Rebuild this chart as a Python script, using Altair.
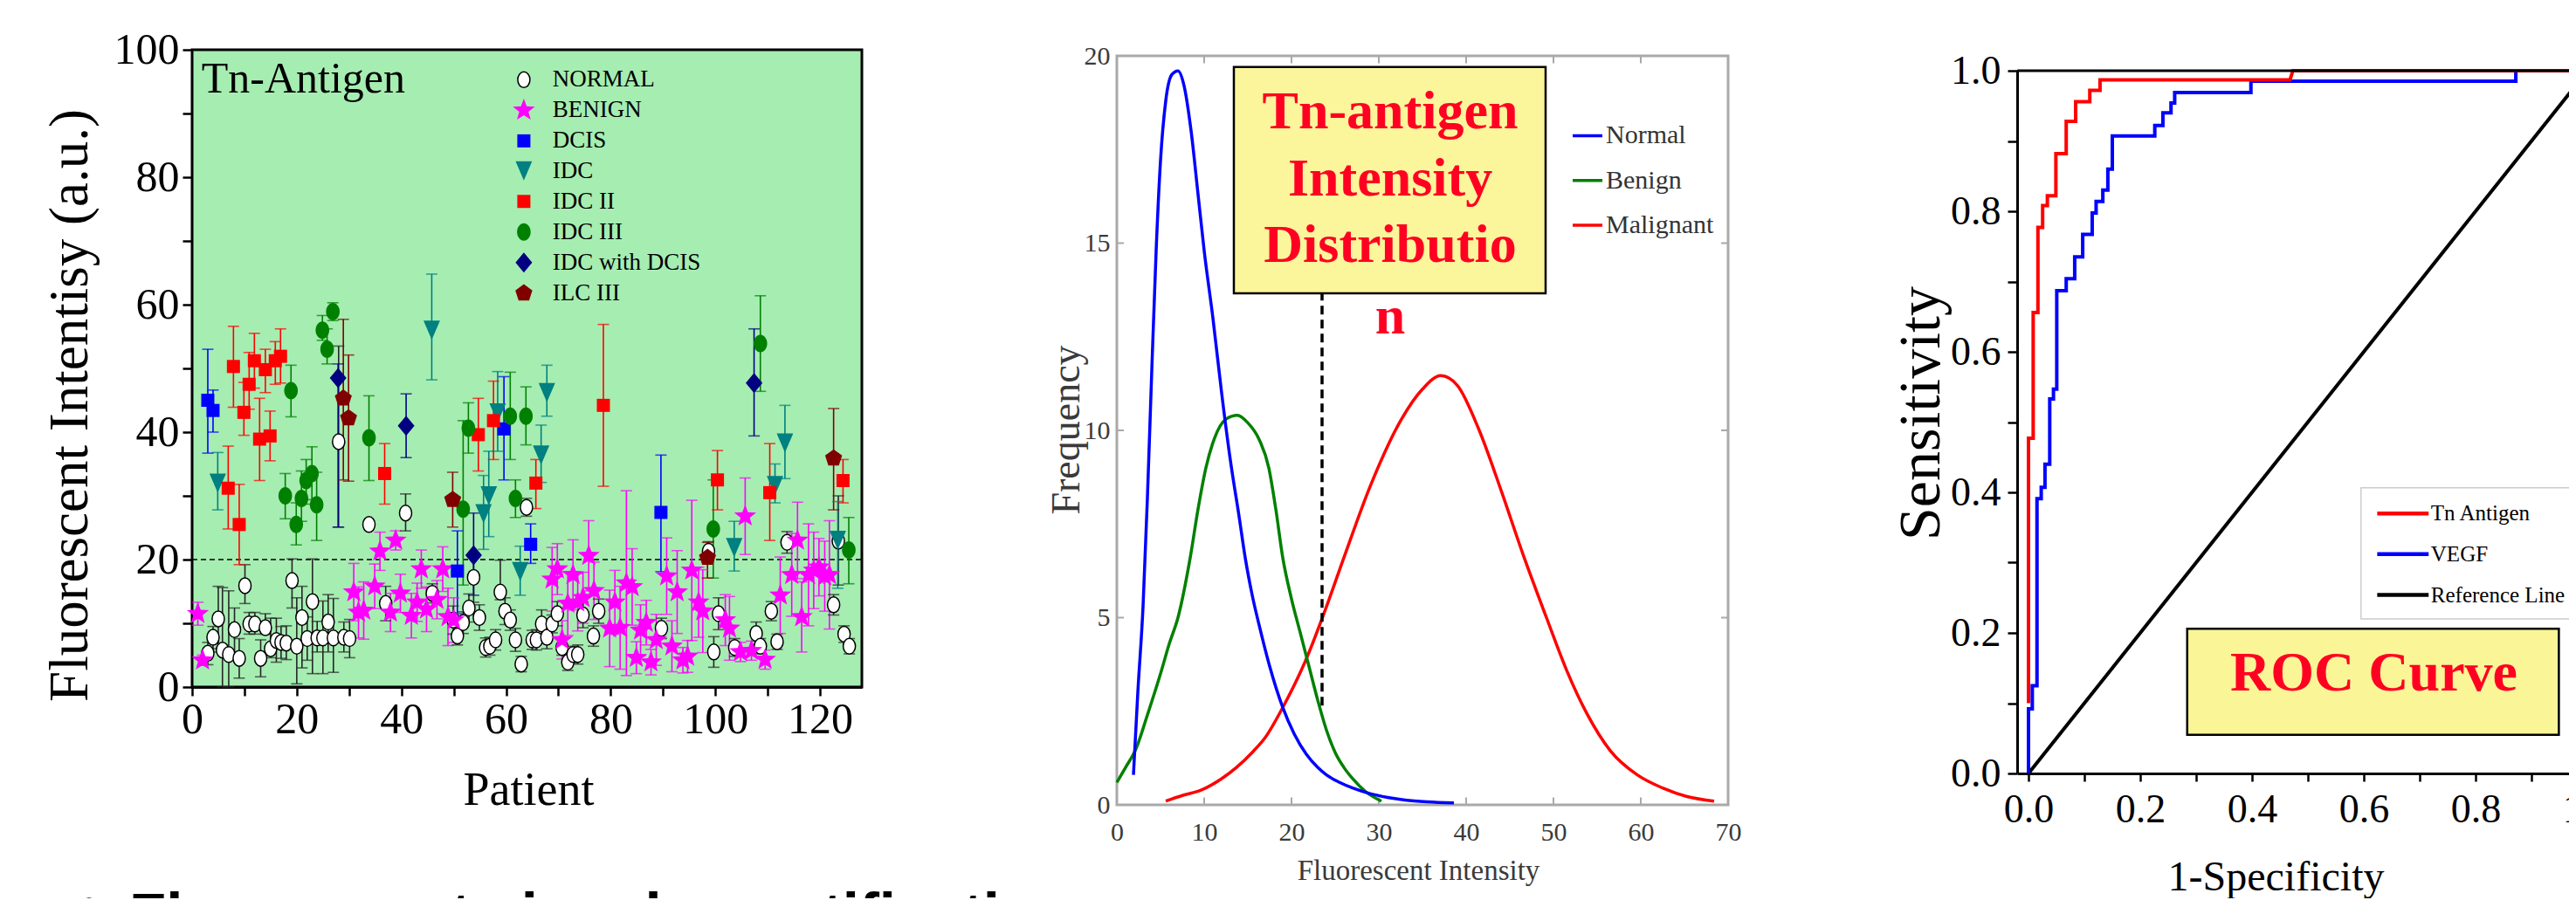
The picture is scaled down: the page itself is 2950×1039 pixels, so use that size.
import altair as alt
import pandas as pd

SERIF = "Liberation Serif"
SANS = "Liberation Sans"
W, H = 2934, 1021

# ======================= Panel 1 data : Tn-Antigen per patient =======================
groups = ["NORMAL", "BENIGN", "DCIS", "IDC", "IDC II", "IDC III", "IDC with DCIS", "ILC III"]
group_colors = ["#262626", "#ff00ff", "#0000ff", "#008080", "#ff0000", "#008000", "#000080", "#800000"]

normal_x = [3.0, 4.0, 5.0, 5.8, 7.0, 8.1, 9.0, 10.1, 10.9, 12.0, 13.1, 14.0, 15.0, 16.1, 17.0, 18.0, 19.1, 20.0, 21.0, 22.0,
            23.0, 23.9, 25.0, 26.0, 27.0, 29.0, 30.1, 28.0, 33.8, 37.0, 40.8, 45.9, 49.9, 50.7, 51.8, 52.9, 53.8, 54.9, 56.1, 56.9,
            58.0, 58.9, 59.8, 60.8, 61.8, 62.9, 63.9, 65.0, 65.8, 66.8, 67.8, 68.8, 69.8, 70.7, 71.8, 72.8, 73.7, 74.7, 76.7, 77.7,
            89.7, 98.7, 99.7, 100.6, 103.7, 107.8, 108.6, 110.7, 111.8, 113.7, 122.6, 123.5, 124.6, 125.6]
normal_y = [5.3, 7.8, 10.7, 5.8, 5.1, 9.0, 4.5, 15.9, 9.9, 9.9, 4.5, 9.3, 6.0, 7.3, 7.0, 6.9, 16.7, 6.4, 10.9, 7.6,
            13.4, 7.7, 7.7, 10.2, 7.7, 7.8, 7.6, 38.5, 25.5, 13.1, 27.3, 14.7, 10.5, 8.0, 10.1, 12.4, 17.2, 10.9, 6.2, 6.4,
            7.4, 14.9, 11.9, 10.5, 7.4, 3.6, 28.2, 7.4, 7.4, 9.9, 7.8, 9.9, 11.5, 6.2, 3.9, 5.1, 5.1, 11.3, 8.0, 11.9,
            9.2, 21.3, 5.5, 11.5, 6.2, 8.4, 6.4, 11.9, 7.1, 22.7, 12.9, 22.9, 8.3, 6.4]
normal_lo = [3.5, 6.0, 5.5, 0.0, 0.0, 5.5, 1.4, 13.1, 8.3, 8.3, 1.6, 8.3, 4.6, 3.9, 4.5, 4.3, 12.4, 0.5, 3.0, 4.2,
             2.1, 5.5, 2.1, 5.5, 2.3, 5.5, 4.6, 25.1, 24.8, 10.4, 24.5, 13.2, 8.3, 6.6, 8.4, 10.2, 13.3, 8.9, 4.7, 5.0,
             5.8, 13.7, 9.8, 8.9, 5.6, 2.4, 26.8, 5.9, 5.8, 7.7, 6.0, 8.5, 9.6, 5.0, 2.6, 3.8, 3.6, 9.3, 6.4, 10.0,
             7.6, 19.8, 3.1, 9.0, 4.8, 6.6, 5.2, 10.4, 5.9, 21.0, 11.3, 16.0, 7.0, 5.2]
normal_hi = [7.0, 9.5, 15.8, 15.6, 15.1, 12.4, 7.6, 19.2, 11.7, 11.7, 7.4, 11.5, 10.8, 10.8, 9.5, 9.6, 20.1, 14.0, 15.8, 11.0,
             20.1, 10.3, 13.5, 14.5, 13.9, 10.2, 10.6, 53.5, 26.2, 15.8, 30.3, 16.2, 12.7, 9.4, 11.8, 14.6, 20.5, 12.9, 7.7, 7.8,
             9.0, 19.9, 14.0, 12.1, 9.2, 4.8, 29.6, 8.9, 9.0, 12.1, 9.6, 11.3, 13.4, 7.4, 5.2, 6.4, 6.6, 13.3, 9.6, 13.8,
             10.8, 22.8, 7.9, 14.0, 7.6, 10.2, 7.6, 13.4, 8.3, 24.4, 14.5, 30.0, 9.6, 7.6]

benign_x = [1.1, 2.0, 30.9, 31.8, 32.8, 34.9, 35.9, 37.9, 38.9, 39.8, 41.9, 43.0, 43.8, 44.8, 46.8, 47.9, 48.9, 50.0, 68.8, 69.8,
            70.7, 71.8, 72.8, 73.7, 74.7, 75.8, 76.8, 79.8, 80.8, 81.8, 83.0, 84.1, 84.9, 85.7, 86.8, 87.7, 88.7, 90.7, 91.7, 92.7,
            93.8, 94.7, 95.5, 96.8, 97.6, 101.9, 102.7, 104.8, 105.7, 106.9, 109.5, 112.4, 114.6, 115.7, 116.5, 117.8, 118.8, 119.8, 120.9, 121.8]
benign_y = [11.5, 4.2, 14.9, 11.7, 12.0, 15.8, 21.3, 11.7, 23.0, 14.7, 11.2, 13.3, 18.5, 12.2, 13.7, 18.5, 11.0, 10.5, 16.9, 18.5,
            7.4, 13.1, 17.6, 13.3, 14.0, 20.6, 15.1, 9.2, 13.3, 9.3, 16.3, 15.7, 4.6, 8.9, 10.1, 3.9, 7.4, 17.4, 6.4, 14.9,
            4.2, 4.8, 18.3, 13.3, 11.9, 10.5, 9.2, 5.5, 26.8, 5.7, 4.3, 14.4, 17.6, 23.0, 11.0, 17.6, 18.3, 18.8, 17.4, 17.6]
benign_err = [1.8, 0.8, 4.5, 4.0, 4.5, 3.5, 3.0, 3.0, 1.5, 3.0, 3.5, 3.0, 3.0, 3.5, 3.0, 3.5, 4.5, 3.5, 5.0, 4.0,
              3.0, 5.0, 5.5, 4.5, 4.0, 5.5, 4.5, 6.0, 5.0, 6.5, 14.5, 6.0, 2.5, 4.0, 3.5, 2.0, 4.0, 6.0, 4.0, 6.5,
              2.0, 2.5, 11.0, 5.5, 6.5, 4.0, 5.0, 1.5, 6.0, 1.5, 1.5, 6.0, 6.5, 6.0, 5.5, 8.0, 6.0, 4.5, 5.5, 8.5]

dcis_x = [3.0, 4.0, 50.7, 59.6, 64.7, 89.6]
dcis_y = [45.0, 43.4, 18.2, 40.5, 22.4, 27.4]
dcis_lo = [36.7, 40.0, 11.5, 32.5, 19.4, 18.1]
dcis_hi = [53.0, 46.6, 24.5, 48.7, 25.6, 36.4]

idc_x = [4.9, 45.8, 55.7, 56.7, 58.4, 62.7, 66.7, 67.8, 103.6, 111.4, 113.3, 123.4]
idc_y = [32.0, 56.0, 27.2, 30.0, 43.0, 18.1, 36.4, 46.2, 21.9, 31.6, 38.3, 23.0]
idc_lo = [27.8, 48.2, 21.6, 23.6, 37.0, 14.4, 32.1, 42.5, 18.2, 28.9, 32.7, 15.5]
idc_hi = [36.8, 64.8, 33.2, 37.0, 49.5, 22.1, 41.1, 50.5, 26.0, 35.0, 44.2, 29.1]

idc2_x = [6.9, 7.9, 9.0, 9.9, 10.9, 11.9, 12.9, 14.0, 14.9, 15.9, 16.9, 36.8, 54.7, 57.6, 65.7, 78.6, 100.4, 110.4, 124.4]
idc2_y = [31.2, 50.3, 25.5, 43.1, 47.5, 51.2, 38.9, 49.8, 39.4, 51.2, 51.9, 33.5, 39.6, 41.8, 32.0, 44.2, 32.5, 30.5, 32.4]
idc2_lo = [24.8, 43.9, 19.2, 39.5, 43.6, 46.9, 32.4, 46.2, 35.5, 47.5, 47.7, 28.7, 33.9, 35.7, 28.0, 31.5, 27.8, 23.0, 28.9]
idc2_hi = [37.8, 56.6, 31.8, 47.8, 52.5, 55.5, 45.3, 53.0, 43.3, 54.2, 56.2, 38.2, 45.3, 48.0, 35.7, 56.9, 37.1, 38.2, 35.7]

idc3_x = [17.8, 18.9, 19.9, 20.9, 21.8, 22.9, 23.8, 24.9, 25.8, 26.9, 33.8, 51.8, 52.8, 60.8, 61.8, 63.8, 99.6, 108.6, 125.5]
idc3_y = [30.0, 46.5, 25.5, 29.6, 32.4, 33.5, 28.6, 56.0, 53.0, 58.9, 39.1, 27.9, 40.6, 42.5, 29.6, 42.5, 24.8, 53.9, 21.5]
idc3_lo = [26.4, 42.4, 22.3, 26.0, 28.7, 29.4, 23.0, 54.4, 50.7, 57.5, 32.4, 16.0, 36.7, 35.7, 26.6, 38.0, 17.1, 46.4, 16.2]
idc3_hi = [33.5, 50.5, 28.9, 33.9, 35.7, 37.7, 33.7, 58.3, 56.2, 60.3, 45.7, 41.8, 44.6, 49.4, 32.5, 47.1, 32.5, 61.4, 26.6]

idcd_x = [27.9, 40.9, 53.8, 107.4]
idcd_y = [48.5, 41.0, 20.7, 47.7]
idcd_lo = [25.1, 36.0, 14.4, 39.4]
idcd_hi = [50.7, 46.0, 27.3, 56.2]

ilc_x = [28.9, 29.9, 49.8, 98.5, 122.6]
ilc_y = [45.3, 42.2, 29.4, 20.3, 35.9]
ilc_lo = [32.5, 32.3, 25.1, 17.1, 27.8]
ilc_hi = [57.7, 52.1, 33.7, 22.7, 43.7]

legend1_y = [95.3, 90.5, 85.7, 81.0, 76.2, 71.4, 66.6, 61.8]

# ======================= Panel 2 data : intensity distributions =======================
normal_dx = [1.9, 2.4, 3.0, 3.5, 4.0, 4.5, 5.0, 5.6, 6.3, 7.0, 7.7, 8.5, 9.3, 10.0, 11.0, 12.0, 13.0, 14.0, 14.7,
             15.5, 16.4, 17.5, 19.0, 20.3, 21.7, 23.0, 24.0, 25.5, 27.0, 29.0, 31.0, 33.0, 35.5, 38.6]
normal_dy = [0.8, 3.0, 5.3, 8.2, 11.6, 14.8, 17.2, 18.8, 19.5, 19.6, 19.2, 18.0, 16.3, 14.8, 13.0, 11.0, 9.2, 7.7, 6.6,
             5.6, 4.7, 3.7, 2.6, 1.9, 1.35, 1.0, 0.8, 0.6, 0.45, 0.3, 0.2, 0.13, 0.08, 0.05]
benign_dx = [0.0, 1.0, 2.2, 3.5, 5.0, 6.0, 7.0, 8.4, 9.3, 10.2, 11.2, 12.5, 13.8, 15.0, 16.2, 17.4, 18.2, 19.0,
             20.0, 21.0, 22.0, 23.0, 24.0, 25.0, 26.0, 27.0, 28.5, 30.3]
benign_dy = [0.6, 1.0, 1.5, 2.4, 3.5, 4.3, 5.0, 6.6, 7.9, 9.0, 9.8, 10.3, 10.4, 10.2, 9.8, 9.0, 7.9, 6.6,
             5.5, 4.6, 3.7, 2.8, 2.0, 1.4, 1.0, 0.7, 0.35, 0.1]
malig_dx = [5.6, 7.5, 9.7, 12.0, 13.7, 15.5, 17.0, 19.0, 21.7, 23.7, 26.0, 29.0, 32.6, 35.0, 37.1, 39.0, 41.5,
            44.0, 46.5, 49.2, 51.5, 53.8, 56.5, 59.6, 62.5, 65.3, 68.4]
malig_dy = [0.1, 0.25, 0.4, 0.7, 1.0, 1.4, 1.8, 2.6, 3.9, 5.1, 6.6, 8.5, 10.3, 11.1, 11.46, 11.2, 10.0,
            8.4, 6.7, 5.0, 3.6, 2.45, 1.45, 0.8, 0.45, 0.22, 0.1]
dist_series = ["Normal", "Benign", "Malignant"]
dist_colors = ["#0000ff", "#008000", "#ff0000"]
cutoff_x = 23.5

# ======================= Panel 3 data : ROC curves =======================
tn_fpr = [0, 0, 0.0084, 0.0084, 0.0169, 0.0169, 0.0253, 0.0253, 0.0338, 0.0338, 0.049, 0.049, 0.0675, 0.0675,
          0.0844, 0.0844, 0.1097, 0.1097, 0.128, 0.128, 0.468, 0.473, 1.0]
tn_tpr = [0.1, 0.477, 0.477, 0.656, 0.656, 0.777, 0.777, 0.808, 0.808, 0.822, 0.822, 0.882, 0.882, 0.928,
          0.928, 0.956, 0.956, 0.972, 0.972, 0.987, 0.987, 1.0, 1.0]
vegf_fpr = [0, 0, 0.0068, 0.0068, 0.0152, 0.0152, 0.0228, 0.0228, 0.0295, 0.0295, 0.038, 0.038, 0.0447, 0.0447,
            0.0506, 0.0506, 0.0675, 0.0675, 0.0827, 0.0827, 0.097, 0.097, 0.114, 0.114, 0.121, 0.121, 0.133, 0.133,
            0.142, 0.142, 0.150, 0.150, 0.226, 0.226, 0.2405, 0.2405, 0.255, 0.255, 0.2616, 0.2616, 0.398, 0.398,
            0.872, 0.872, 1.0]
vegf_tpr = [0, 0.092, 0.092, 0.125, 0.125, 0.391, 0.391, 0.407, 0.407, 0.44, 0.44, 0.533, 0.533, 0.547,
            0.547, 0.687, 0.687, 0.704, 0.704, 0.735, 0.735, 0.767, 0.767, 0.7975, 0.7975, 0.814, 0.814, 0.83,
            0.83, 0.86, 0.86, 0.907, 0.907, 0.922, 0.922, 0.94, 0.94, 0.954, 0.954, 0.969, 0.969, 0.985,
            0.985, 1.0, 1.0]
ref_fpr = [0.0, 1.0]
ref_tpr = [0.0, 1.0]
roc_series = ["Tn Antigen", "VEGF", "Reference Line"]
roc_colors = ["#ff0000", "#0000ff", "#000000"]

# ======================= marker shapes =======================
ELL_N = "M0,-1C0.431,-1,0.78,-0.552,0.78,0C0.78,0.552,0.431,1,0,1C-0.431,1,-0.78,0.552,-0.78,0C-0.78,-0.552,-0.431,-1,0,-1Z"
ELL_G = "M0,-1C0.43,-1,0.78,-0.552,0.78,0C0.78,0.552,0.43,1,0,1C-0.43,1,-0.78,0.552,-0.78,0C-0.78,-0.552,-0.43,-1,0,-1Z"
STAR = "M0,-1L0.247,-0.34L0.951,-0.309L0.4,0.13L0.588,0.809L0,0.42L-0.588,0.809L-0.4,0.13L-0.951,-0.309L-0.247,-0.34Z"
TRI = "M-0.86,-1L0.86,-1L0,1Z"
DIAM = "M0,-1L0.83,0L0,1L-0.83,0Z"
PENT = "M0,-1L0.951,-0.309L0.588,0.809L-0.588,0.809L-0.951,-0.309Z"
group_shapes = [ELL_N, STAR, "square", TRI, "square", ELL_G, DIAM, PENT]
group_sizes = [324, 700, 225, 484, 225, 400, 529, 420]

# ======================= tables =======================
group_pts = {}
err_rows = []
rows = []
for a, b, e in zip(benign_x, benign_y, benign_err):
    rows.append({"x": a, "y": b})
    err_rows.append({"g": "BENIGN", "x": a, "lo": b - e, "hi": b + e})
group_pts["BENIGN"] = pd.DataFrame(rows)
for a, b, lo, hi in zip(normal_x, normal_y, normal_lo, normal_hi):
    err_rows.append({"g": "NORMAL", "x": a, "lo": lo, "hi": hi})
for g, xs, ys, los, his in [("DCIS", dcis_x, dcis_y, dcis_lo, dcis_hi), ("IDC", idc_x, idc_y, idc_lo, idc_hi),
                            ("IDC II", idc2_x, idc2_y, idc2_lo, idc2_hi), ("IDC III", idc3_x, idc3_y, idc3_lo, idc3_hi),
                            ("IDC with DCIS", idcd_x, idcd_y, idcd_lo, idcd_hi), ("ILC III", ilc_x, ilc_y, ilc_lo, ilc_hi)]:
    group_pts[g] = pd.DataFrame({"x": xs, "y": ys})
    for a, lo, hi in zip(xs, los, his):
        err_rows.append({"g": g, "x": a, "lo": lo, "hi": hi})
err_df = pd.DataFrame(err_rows)
normal_df = pd.DataFrame({"x": normal_x, "y": normal_y})

# ======================= Panel 1 =======================
sx1 = alt.Scale(domain=[0, 128], range=[212, 979], nice=False, zero=False)
sy1 = alt.Scale(domain=[0, 100], range=[779, 49], nice=False, zero=False)
ax1x = alt.Axis(orient="bottom", offset=779 - H, values=list(range(0, 121, 10)),
                labelExpr="datum.value % 20 == 0 ? datum.label : ''", grid=False,
                domainColor="black", domainWidth=3, tickColor="black", tickWidth=2.5, tickSize=10,
                labelFont=SERIF, labelFontSize=50, labelColor="black", labelPadding=2,
                labelOverlap=False, labelFlush=False,
                title="Patient", titleFont=SERIF, titleFontSize=54, titleFontWeight="normal",
                titleColor="black", titleX=597, titleY=118, titleBaseline="middle", titleAlign="center")
ax1y = alt.Axis(orient="left", offset=-212, values=list(range(0, 101, 10)),
                labelExpr="datum.value % 20 == 0 ? datum.label : ''", grid=False,
                domainColor="black", domainWidth=3, tickColor="black", tickWidth=2.5, tickSize=11,
                labelFont=SERIF, labelFontSize=50, labelColor="black", labelPadding=4,
                labelOverlap=False, labelFlush=False,
                title="Fluorescent Intentisy (a.u.)", titleFont=SERIF, titleFontSize=63,
                titleFontWeight="normal", titleColor="black", titleAngle=270, titleX=-140, titleY=456,
                titleBaseline="middle", titleAlign="center")


def X1(f):
    return alt.X(f, type="quantitative", scale=sx1, axis=ax1x)


def Y1(f):
    return alt.Y(f, type="quantitative", scale=sy1, axis=ax1y)


col_scale = alt.Scale(domain=groups, range=group_colors)

bg1 = alt.Chart(pd.DataFrame({"x": [0], "x2": [128], "y": [0], "y2": [100]})).mark_rect(
    fill="#a6edb2", stroke="black", strokeWidth=3).encode(x=X1("x"), x2=alt.X2("x2"), y=Y1("y"), y2=alt.Y2("y2"))
dash1 = alt.Chart(pd.DataFrame({"x": [0], "x2": [128], "y": [20]})).mark_rule(
    color="black", strokeDash=[6, 4], strokeWidth=1.5).encode(x=X1("x"), x2=alt.X2("x2"), y=Y1("y"))
err1 = alt.Chart(err_df).mark_rule(strokeWidth=1.6).encode(
    x=X1("x"), y=Y1("lo"), y2=alt.Y2("hi"), color=alt.Color("g:N", scale=col_scale, legend=None))
caphi = alt.Chart(err_df).mark_tick(orient="horizontal", size=13, thickness=1.6).encode(
    x=X1("x"), y=Y1("hi"), color=alt.Color("g:N", scale=col_scale, legend=None))
caplo = alt.Chart(err_df).mark_tick(orient="horizontal", size=13, thickness=1.6).encode(
    x=X1("x"), y=Y1("lo"), color=alt.Color("g:N", scale=col_scale, legend=None))
npts = alt.Chart(normal_df).mark_point(shape=ELL_N, size=group_sizes[0], filled=True, fill="white",
                                       stroke="black", strokeWidth=1.5, opacity=1).encode(x=X1("x"), y=Y1("y"))
layers1 = [bg1, dash1, err1, caphi, caplo, npts]
for gi, g in enumerate(groups[1:], start=1):
    layers1.append(alt.Chart(group_pts[g]).mark_point(
        shape=group_shapes[gi], size=group_sizes[gi], filled=True, fill=group_colors[gi],
        strokeWidth=0, opacity=1).encode(x=X1("x"), y=Y1("y")))

# legend inside the panel
layers1.append(alt.Chart(pd.DataFrame({"x": [63.4], "y": [legend1_y[0]]})).mark_point(
    shape=ELL_N, size=group_sizes[0], filled=True, fill="white", stroke="black", strokeWidth=1.5,
    opacity=1).encode(x=X1("x"), y=Y1("y")))
for gi, g in enumerate(groups[1:], start=1):
    layers1.append(alt.Chart(pd.DataFrame({"x": [63.4], "y": [legend1_y[gi]]})).mark_point(
        shape=group_shapes[gi], size=group_sizes[gi], filled=True, fill=group_colors[gi],
        strokeWidth=0, opacity=1).encode(x=X1("x"), y=Y1("y")))
layers1.append(alt.Chart(pd.DataFrame({"x": [68.9] * 8, "y": legend1_y, "t": groups})).mark_text(
    align="left", baseline="middle", font=SERIF, fontSize=27, color="black").encode(
    x=X1("x"), y=Y1("y"), text="t:N"))
layers1.append(alt.Chart(pd.DataFrame({"x": [1.8], "y": [93.3], "t": ["Tn-Antigen"]})).mark_text(
    align="left", baseline="alphabetic", font=SERIF, fontSize=50, color="black").encode(
    x=X1("x"), y=Y1("y"), text="t:N"))
layers1.append(alt.Chart(pd.DataFrame({"x": [-21.7, -12.0], "y": [-37.5, -38.9],
                                       "t": ["\u2022", "Fluorescent signal quantification"]})).mark_text(
    align="left", baseline="alphabetic", font=SANS, fontWeight="bold", fontSize=69, color="black").encode(
    x=X1("x"), y=Y1("y"), text="t:N"))

panel1 = alt.layer(*layers1)

# ======================= Panel 2 =======================
sx2 = alt.Scale(domain=[0, 70], range=[1271, 1971], nice=False, zero=False)
sy2 = alt.Scale(domain=[0, 20], range=[914, 56], nice=False, zero=False)
ax2x = alt.Axis(orient="bottom", offset=914 - H, values=list(range(0, 71, 10)), grid=False,
                ticks=False, tickSize=0, domain=False, labelFont=SERIF, labelFontSize=30,
                labelColor="#3a3a3a", labelPadding=16, labelOverlap=False, labelFlush=False,
                title="Fluorescent Intensity", titleFont=SERIF, titleFontSize=33, titleFontWeight="normal",
                titleColor="#3a3a3a", titleX=1616, titleY=75, titleBaseline="middle", titleAlign="center")
ax2y = alt.Axis(orient="left", offset=-1271, values=[0, 5, 10, 15, 20], grid=False,
                ticks=False, tickSize=0, domain=False, labelFont=SERIF, labelFontSize=30,
                labelColor="#3a3a3a", labelPadding=8, labelOverlap=False, labelFlush=False,
                title="Frequency", titleFont=SERIF, titleFontSize=46, titleFontWeight="normal",
                titleColor="#3a3a3a", titleAngle=270, titleX=-58, titleY=484,
                titleBaseline="middle", titleAlign="center")


def X2(f):
    return alt.X(f, type="quantitative", scale=sx2, axis=ax2x)


def Y2(f):
    return alt.Y(f, type="quantitative", scale=sy2, axis=ax2y)


frame2 = alt.Chart(pd.DataFrame({"x": [0], "x2": [70], "y": [0], "y2": [20]})).mark_rect(
    fill="white", fillOpacity=0, stroke="#a9a9a9", strokeWidth=3).encode(
    x=X2("x"), x2=alt.X2("x2"), y=Y2("y"), y2=alt.Y2("y2"))
vt = pd.DataFrame({"x": list(range(10, 70, 10)) * 2,
                   "y": [0.0] * 6 + [20.0] * 6, "y2": [0.2] * 6 + [19.8] * 6})
ht = pd.DataFrame({"y": [5, 10, 15] * 2, "x": [0.0] * 3 + [70.0] * 3, "x2": [0.8] * 3 + [69.2] * 3})
vticks2 = alt.Chart(vt).mark_rule(color="#a9a9a9", strokeWidth=2).encode(x=X2("x"), y=Y2("y"), y2=alt.Y2("y2"))
hticks2 = alt.Chart(ht).mark_rule(color="#a9a9a9", strokeWidth=2).encode(x=X2("x"), x2=alt.X2("x2"), y=Y2("y"))
curves = []
for xs, ys, c in [(malig_dx, malig_dy, dist_colors[2]), (benign_dx, benign_dy, dist_colors[1]),
                  (normal_dx, normal_dy, dist_colors[0])]:
    curves.append(alt.Chart(pd.DataFrame({"x": xs, "y": ys})).mark_line(
        color=c, strokeWidth=3.5, interpolate="monotone").encode(x=X2("x"), y=Y2("y")))
cut2 = alt.Chart(pd.DataFrame({"x": [cutoff_x], "y": [2.65], "y2": [13.66]})).mark_rule(
    color="black", strokeWidth=3.5, strokeDash=[10, 6]).encode(x=X2("x"), y=Y2("y"), y2=alt.Y2("y2"))
box2 = alt.Chart(pd.DataFrame({"x": [13.4], "x2": [49.1], "y": [13.66], "y2": [19.70]})).mark_rect(
    fill="#fbf59b", stroke="black", strokeWidth=2.5).encode(
    x=X2("x"), x2=alt.X2("x2"), y=Y2("y"), y2=alt.Y2("y2"))
boxtxt2 = alt.Chart(pd.DataFrame({"x": [31.3] * 4, "y": [18.5, 16.72, 14.94, 13.04],
                                  "t": ["Tn-antigen", "Intensity", "Distributio", "n"]})).mark_text(
    align="center", baseline="middle", font=SERIF, fontWeight="bold", fontSize=62, color="#ff0022").encode(
    x=X2("x"), y=Y2("y"), text="t:N")
leg2_lines = alt.Chart(pd.DataFrame({"x": [52.2] * 3, "x2": [55.6] * 3, "y": [17.87, 16.67, 15.48],
                                     "c": dist_colors})).mark_rule(strokeWidth=3.5).encode(
    x=X2("x"), x2=alt.X2("x2"), y=Y2("y"), color=alt.Color("c:N", scale=None))
leg2_txt = alt.Chart(pd.DataFrame({"x": [56.0] * 3, "y": [17.87, 16.67, 15.48], "t": dist_series})).mark_text(
    align="left", baseline="middle", font=SERIF, fontSize=30, color="#333333").encode(
    x=X2("x"), y=Y2("y"), text="t:N")

panel2 = alt.layer(frame2, vticks2, hticks2, *curves, cut2, box2, boxtxt2, leg2_lines, leg2_txt)

# ======================= Panel 3 =======================
sx3 = alt.Scale(domain=[-0.02, 1.02], range=[2302.2, 2967.8], nice=False, zero=False)
sy3 = alt.Scale(domain=[0, 1], range=[878, 73], nice=False, zero=False)
tick_vals = [round(i * 0.1, 1) for i in range(11)]
lab_expr = "round(datum.value * 10) % 2 == 0 ? format(datum.value, '.1f') : ''"
ax3x = alt.Axis(orient="bottom", offset=878 - H, values=tick_vals, labelExpr=lab_expr, grid=False,
                domainColor="black", domainWidth=3, tickColor="black", tickWidth=2.5, tickSize=9,
                labelFont=SERIF, labelFontSize=46, labelColor="black", labelPadding=10,
                labelOverlap=False, labelFlush=False,
                title="1-Specificity", titleFont=SERIF, titleFontSize=48, titleFontWeight="normal",
                titleColor="black", titleX=2598, titleY=133, titleBaseline="alphabetic", titleAlign="center")
ax3y = alt.Axis(orient="left", offset=-2302, values=tick_vals, labelExpr=lab_expr, grid=False,
                domainColor="black", domainWidth=3, tickColor="black", tickWidth=2.5, tickSize=11,
                labelFont=SERIF, labelFontSize=46, labelColor="black", labelPadding=8,
                labelOverlap=False, labelFlush=False,
                title="Sensitivity", titleFont=SERIF, titleFontSize=68, titleFontWeight="normal",
                titleColor="black", titleAngle=270, titleX=-110, titleY=465,
                titleBaseline="middle", titleAlign="center")


def X3(f):
    return alt.X(f, type="quantitative", scale=sx3, axis=ax3x)


def Y3(f):
    return alt.Y(f, type="quantitative", scale=sy3, axis=ax3y)


ref3 = alt.Chart(pd.DataFrame({"x": ref_fpr, "y": ref_tpr})).mark_line(
    color=roc_colors[2], strokeWidth=4).encode(x=X3("x"), y=Y3("y"))
vegf3 = alt.Chart(pd.DataFrame({"x": vegf_fpr, "y": vegf_tpr, "i": list(range(len(vegf_fpr)))})).mark_line(
    color=roc_colors[1], strokeWidth=4).encode(x=X3("x"), y=Y3("y"), order=alt.Order("i:Q"))
tn3 = alt.Chart(pd.DataFrame({"x": tn_fpr, "y": tn_tpr, "i": list(range(len(tn_fpr)))})).mark_line(
    color=roc_colors[0], strokeWidth=4).encode(x=X3("x"), y=Y3("y"), order=alt.Order("i:Q"))
top3 = alt.Chart(pd.DataFrame({"x": [-0.02], "x2": [1.02], "y": [1.0]})).mark_rule(
    color="black", strokeWidth=3).encode(x=X3("x"), x2=alt.X2("x2"), y=Y3("y"))
legbox3 = alt.Chart(pd.DataFrame({"x": [0.595], "x2": [1.05], "y": [0.2198], "y2": [0.4066]})).mark_rect(
    fill="white", stroke="#cccccc", strokeWidth=1.5).encode(
    x=X3("x"), x2=alt.X2("x2"), y=Y3("y"), y2=alt.Y2("y2"))
leg3_lines = alt.Chart(pd.DataFrame({"x": [0.624] * 3, "x2": [0.716] * 3, "y": [0.370, 0.312, 0.254],
                                     "c": roc_colors})).mark_rule(strokeWidth=4.5).encode(
    x=X3("x"), x2=alt.X2("x2"), y=Y3("y"), color=alt.Color("c:N", scale=None))
leg3_txt = alt.Chart(pd.DataFrame({"x": [0.72] * 3, "y": [0.370, 0.312, 0.254], "t": roc_series})).mark_text(
    align="left", baseline="middle", font=SERIF, fontSize=25, color="black").encode(
    x=X3("x"), y=Y3("y"), text="t:N")
rocbox = alt.Chart(pd.DataFrame({"x": [0.284], "x2": [0.949], "y": [0.055], "y2": [0.206]})).mark_rect(
    fill="#faf596", stroke="black", strokeWidth=2.5).encode(
    x=X3("x"), x2=alt.X2("x2"), y=Y3("y"), y2=alt.Y2("y2"))
roctxt = alt.Chart(pd.DataFrame({"x": [0.618], "y": [0.1416], "t": ["ROC Curve"]})).mark_text(
    align="center", baseline="middle", font=SERIF, fontWeight="bold", fontSize=64, color="#ff0022").encode(
    x=X3("x"), y=Y3("y"), text="t:N")

panel3 = alt.layer(ref3, vegf3, tn3, top3, legbox3, leg3_lines, leg3_txt, rocbox, roctxt)

chart = alt.layer(panel1, panel2, panel3).resolve_scale(
    x="independent", y="independent", color="independent"
).properties(
    width=W, height=H, autosize=alt.AutoSizeParams(type="none"), padding=0
).configure_view(strokeWidth=0)

chart.save("out.html", embed_options={"renderer": "svg", "actions": False})
